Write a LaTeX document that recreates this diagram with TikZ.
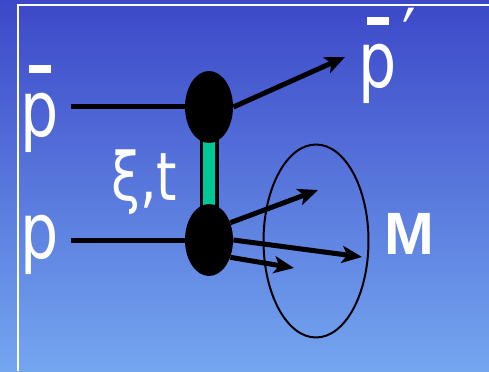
\documentclass[tikz,border=0pt]{standalone}
\usepackage{fontspec}
\setsansfont{DejaVu Sans}
\newfontfamily\partfont[FakeStretch=0.78]{DejaVu Sans}
\newfontfamily\arialbold{Liberation Sans Bold}
\usetikzlibrary{arrows.meta,shapes.geometric}
\definecolor{skytop}{HTML}{3C48C8}
\definecolor{skybottom}{HTML}{74A6F0}
\definecolor{pomeron}{HTML}{00C896}
\newcommand{\barred}[1]{\rlap{\hspace{0.11em}\rule[0.81em]{0.28em}{0.11em}}#1}

\begin{document}
\begin{tikzpicture}[x=0.02cm, y=-0.02cm, font=\sffamily,
    >={Stealth[length=0.4cm, width=0.34cm, inset=0.1cm]},
    blob/.style={ellipse, fill=black, minimum width=0.96cm, minimum height=1.44cm, inner sep=0},
    particle/.style={text=white, inner sep=0, anchor=base west, font=\partfont\fontsize{44}{44}\selectfont},
    leg/.style={line width=0.1cm}]

    % Background and frame
    \shade[top color=skytop, bottom color=skybottom] (0,0) rectangle (489,371);
    \useasboundingbox (0,0) rectangle (489,371);
    \draw[white, line width=0.05cm] (18,371) -- (18,5) -- (489,5);

    % Exchange between the vertices
    \coordinate (vtop) at (209,107);
    \coordinate (vbot) at (209,240);
    \draw[line width=0.38cm] (vtop) -- (vbot);
    \draw[pomeron, line width=0.24cm] (vtop) -- (vbot);
    \node[blob] (ptop) at (vtop) {};
    \node[blob] (pbot) at (vbot) {};

    % Incoming particles
    \node[particle] (pbarin) at (20,136) {\barred{p}};
    \node[particle] (pin) at (20,258) {p};
    \coordinate (pbarstart) at (71,107);
    \coordinate (pstart) at (71,240);
    \draw[leg] (pbarstart) -- (ptop);
    \draw[leg] (pstart) -- (pbot);
    \node[particle, font=\partfont\fontsize{38}{38}\selectfont] (xit) at (111,200) {ξ,t};

    % Outgoing antiproton
    \coordinate (pbarend) at (345,57);
    \draw[leg, ->] (ptop.east) -- (pbarend);
    \node[particle] (pbarout) at (358,88) {\barred{p}\kern0.08em\raisebox{0.3em}{′}};

    % System M
    \node[ellipse, draw, line width=0.04cm, minimum width=2.1cm, minimum height=3.86cm, inner sep=0] (mset) at (316,241) {};
    \coordinate (mup) at (318,190);
    \coordinate (mmid) at (362,257);
    \coordinate (mlow) at (294,268);
    \draw[leg, ->] (pbot.39) -- (mup);
    \draw[leg, ->] (pbot.east) -- (mmid);
    \draw[leg, ->] (pbot.-39) -- (mlow);
    \node[text=white, inner sep=0, font=\arialbold\fontsize{34}{34}\selectfont] (mlabel) at (409,234) {M};

\end{tikzpicture}
\end{document}
